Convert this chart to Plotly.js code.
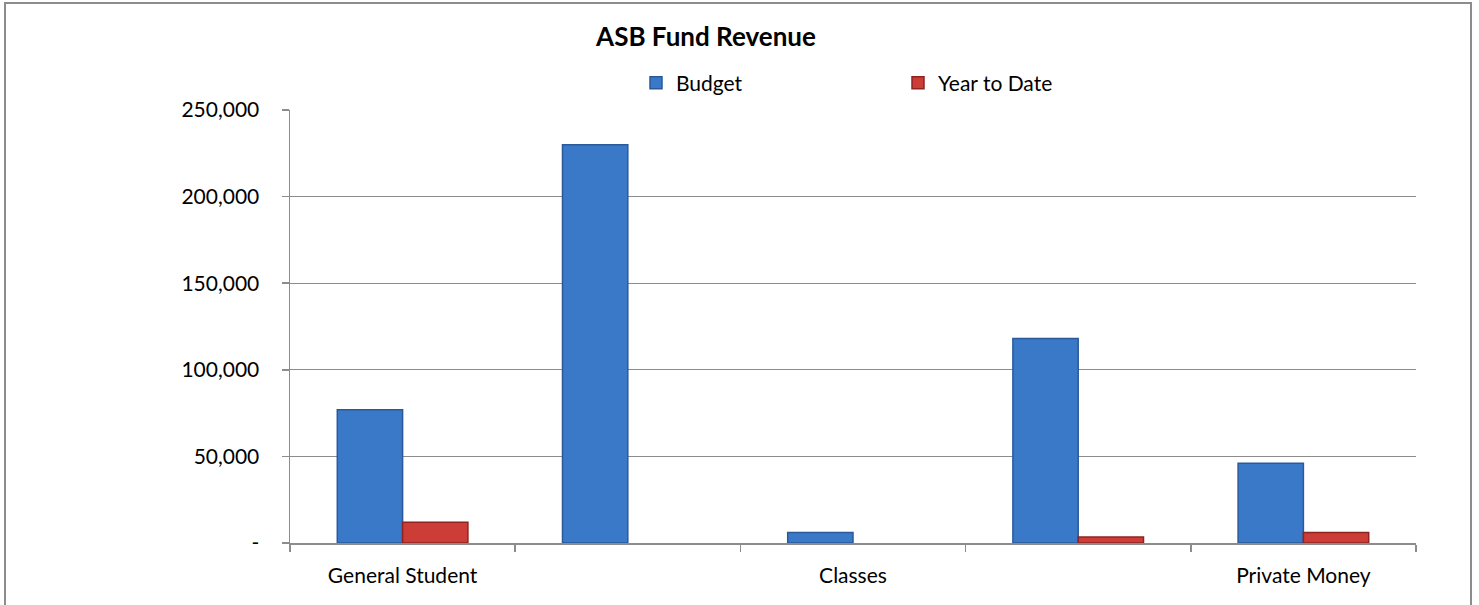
<!DOCTYPE html>
<html>
<head>
<meta charset="utf-8">
<script src="https://cdn.plot.ly/plotly-3.0.1.min.js"></script>
<style>
  html, body { margin: 0; padding: 0; background: #fff; }
  #wrap { position: relative; width: 1479px; height: 605px; overflow: hidden; }
  #chart { position: absolute; left: 0; top: 0; width: 1479px; height: 605px; }
  #frame { position: absolute; left: 4px; top: 2px; width: 1464px; height: 640px;
           border: 2px solid #8c8c8c; pointer-events: none; }
</style>
</head>
<body>
<div id="wrap">
  <div id="chart"></div>
  <div id="frame"></div>
</div>
<script>
// Data (null = no visible bar)
const categories = ["General Student", "Category 2", "Classes", "Category 4", "Private Money"];
const tickLabels = ["General Student", "", "Classes", "", "Private Money"];
const budget = [77000, 230000, 6000, 118000, 46000];
const yearToDate = [12000, null, null, 3500, 6000];
const yTickVals = [0, 50000, 100000, 150000, 200000, 250000];
const yTickText = ["-", "50,000", "100,000", "150,000", "200,000", "250,000"];

const FONT = "Lato, 'Open Sans', sans-serif";
const W = 1479, H = 605;

const traces = [
  {
    type: "bar", name: "Budget", x: categories, y: budget,
    marker: { color: "#3a78c8", line: { color: "#2a5a99", width: 1.5 } }
  },
  {
    type: "bar", name: "Year to Date", x: categories, y: yearToDate,
    marker: { color: "#cc3d38", line: { color: "#8e2320", width: 1.5 } }
  }
];

const layout = {
  width: W, height: H,
  margin: { l: 290, r: 63, t: 110, b: 62 },
  paper_bgcolor: "#ffffff", plot_bgcolor: "#ffffff",
  font: { family: FONT, size: 21, color: "#000" },
  title: {
    text: "<b>ASB Fund Revenue</b>",
    font: { family: FONT, size: 26, color: "#000" },
    x: 706 / W, xref: "container", xanchor: "center",
    y: 1 - 37 / H, yref: "container", yanchor: "middle"
  },
  barmode: "group", bargap: 0.42, bargroupgap: 0,
  showlegend: true,
  legend: {
    orientation: "h", xref: "container", yref: "container",
    x: 636 / W, xanchor: "left", y: 1 - 83 / H, yanchor: "middle",
    font: { family: FONT, size: 21 }, entrywidth: 217, entrywidthmode: "pixels",
    itemwidth: 30, traceorder: "normal", bgcolor: "rgba(0,0,0,0)"
  },
  xaxis: {
    type: "category", tickmode: "array", tickvals: categories, ticktext: tickLabels,
    tickson: "boundaries", ticks: "outside", ticklen: 7, tickcolor: "#8c8c8c", tickwidth: 1.5,
    showline: true, linecolor: "#8c8c8c", linewidth: 1.5, showgrid: false,
    ticklabelstandoff: 13,
    tickfont: { family: FONT, size: 21 }, fixedrange: true
  },
  yaxis: {
    range: [0, 250000], tickmode: "array", tickvals: yTickVals, ticktext: yTickText,
    ticks: "outside", ticklen: 7, tickcolor: "#8c8c8c", tickwidth: 1.5,
    showline: true, linecolor: "#8c8c8c", linewidth: 1.5,
    showgrid: true, gridcolor: "#8c8c8c", gridwidth: 1.2, zeroline: false,
    ticklabelstandoff: 18,
    tickfont: { family: FONT, size: 21 }, fixedrange: true
  }
};

Plotly.newPlot("chart", traces, layout, { displayModeBar: false, staticPlot: true });
</script>
</body>
</html>
